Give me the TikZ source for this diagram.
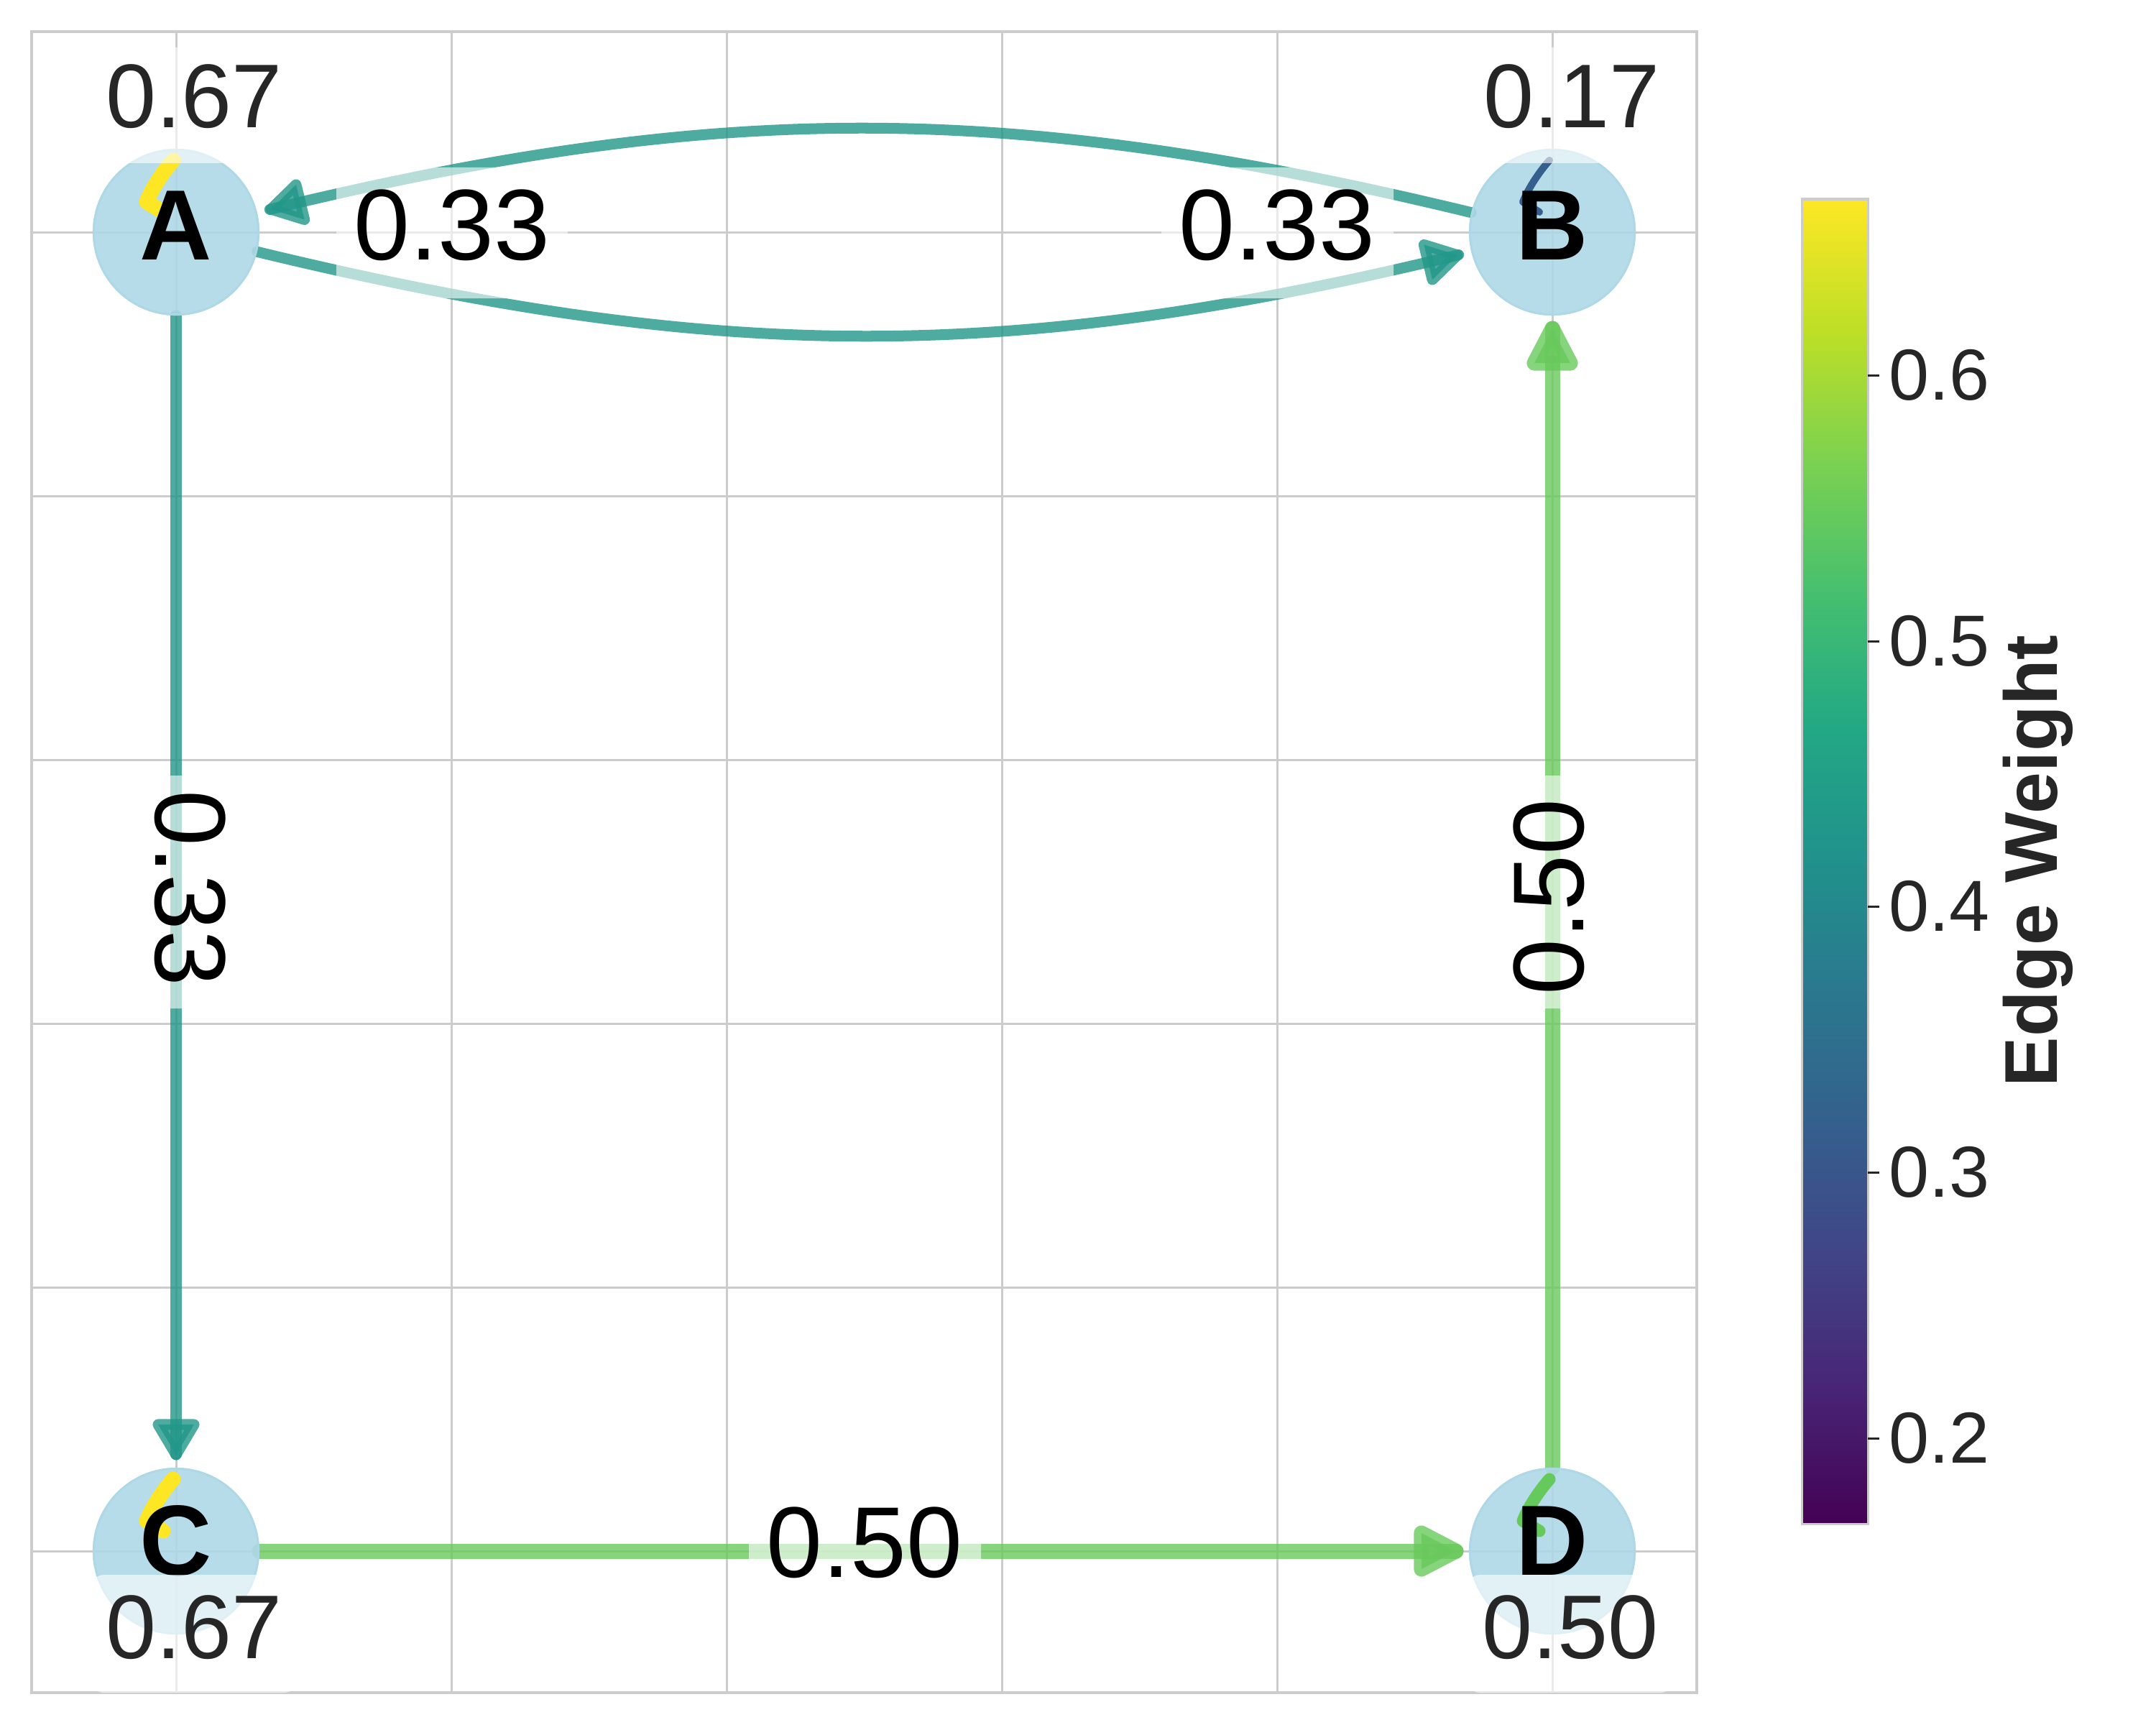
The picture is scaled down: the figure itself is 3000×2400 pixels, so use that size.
\documentclass[tikz,border=0pt]{standalone}
\usepackage{fontspec}
\setmainfont{Liberation Sans}
\usetikzlibrary{calc,decorations.markings}

\definecolor{gridc}{HTML}{CCCCCC}
\definecolor{txt}{HTML}{262626}
\definecolor{nodeblue}{HTML}{ADD8E6}
\definecolor{tealedge}{HTML}{219688}
\definecolor{greenedge}{HTML}{68C95B}
\definecolor{loopyellow}{HTML}{FDE725}
\definecolor{loopblue}{HTML}{355F8D}
\definecolor{loopgreen}{HTML}{66C95B}
\definecolor{v0}{HTML}{440154}
\definecolor{v1}{HTML}{482475}
\definecolor{v2}{HTML}{414487}
\definecolor{v3}{HTML}{355F8D}
\definecolor{v4}{HTML}{2A788E}
\definecolor{v5}{HTML}{21918C}
\definecolor{v6}{HTML}{22A884}
\definecolor{v7}{HTML}{44BF70}
\definecolor{v8}{HTML}{7AD151}
\definecolor{v9}{HTML}{BDDF26}
\definecolor{v10}{HTML}{FDE725}

\pgfdeclareverticalshading{viridis}{100bp}{color(0bp)=(v0); color(25bp)=(v0); color(30bp)=(v1); color(35bp)=(v2); color(40bp)=(v3); color(45bp)=(v4); color(50bp)=(v5); color(55bp)=(v6); color(60bp)=(v7); color(65bp)=(v8); color(70bp)=(v9); color(75bp)=(v10); color(100bp)=(v10)}

\newcommand\edgehead[4]{%
  \fill[#1, fill opacity=0.8] (0,0) -- (-#3,#4) -- (-#3,-#4) -- cycle;
  \draw[#1, draw opacity=0.8, line width=#2, line join=round] (0,0) -- (-#3,#4) -- (-#3,-#4) -- cycle;}

\newcommand\selfloop[3]{%
  \draw[line width=#3, draw=#2, line cap=round, line join=round]
    ($(#1.center)+(-4,-100)$) .. controls ($(#1.center)+(-18,-84)$) and ($(#1.center)+(-33,-62)$) .. ($(#1.center)+(-41,-42)$) -- ($(#1.center)+(-18,-28)$);}

\tikzset{
  gridline/.style={draw=gridc, line width=0.03cm},
  frameline/.style={draw=gridc, line width=0.04cm},
  vertex/.style={circle, minimum size=2.32cm, inner sep=0pt, outer sep=0.18cm},
  vertexfill/.style={fill=nodeblue, fill opacity=0.9},
  vertexring/.style={draw=nodeblue, draw opacity=0.9, line width=0.03cm},
  tealline/.style={draw=tealedge, draw opacity=0.8, line width=0.15cm, line cap=round, shorten <=-0.18cm,
    postaction={decorate, decoration={markings, mark=at position 1 with {\edgehead{tealedge}{0.15cm}{0.42cm}{0.25cm}}}}},
  tealcurve/.style={draw=tealedge, draw opacity=0.8, line width=0.15cm, line cap=round, shorten <=-0.18cm,
    postaction={decorate, decoration={markings, mark=at position 0.999 with {\edgehead{tealedge}{0.15cm}{0.42cm}{0.25cm}}}}},
  greenline/.style={draw=greenedge, draw opacity=0.8, line width=0.21cm, line cap=round, shorten <=-0.18cm,
    postaction={decorate, decoration={markings, mark=at position 1 with {\edgehead{greenedge}{0.21cm}{0.48cm}{0.25cm}}}}},
  letter/.style={inner sep=0pt, text=black, font=\fontsize{39.5}{46}\selectfont\bfseries},
  edgelab/.style={inner sep=0pt, text=black, font=\fontsize{39.8}{46}\selectfont},
  vallab/.style={inner sep=0pt, text=txt, font=\fontsize{35.8}{42}\selectfont},
  labelbox/.style={fill=white, fill opacity=0.6, rounded corners=0.2cm},
  ticklab/.style={inner sep=0pt, text=txt, font=\fontsize{28.6}{34}\selectfont},
  tickline/.style={draw=txt, line width=0.03cm},
  cbarframe/.style={draw=gridc, line width=0.03cm},
}

\begin{document}
\begin{tikzpicture}[x=0.01cm, y=-0.01cm]
\useasboundingbox (0,0) rectangle (3000,2400);

% grid and frame
\foreach \gx in {245,628,1011,1394,1777,2160} \draw[gridline] (\gx,44) -- (\gx,2355);
\foreach \gy in {323,690,1057,1424,1791,2158} \draw[gridline] (44,\gy) -- (2361,\gy);
\draw[frameline] (44,44) rectangle (2361,2355);

% vertex anchors
\node[vertex] (A) at (245,323) {};
\node[vertex] (B) at (2160,323) {};
\node[vertex] (C) at (245,2158) {};
\node[vertex] (D) at (2160,2158) {};

% edges
\draw[tealcurve] (A) to[bend right=13.6] (B);
\draw[tealcurve] (B) to[bend right=13.6] (A);
\draw[tealline] (A) -- (C);
\draw[greenline] (C) -- (D);
\draw[greenline] (D) -- (B);

% vertex discs
\foreach \vv in {A,B,C,D} {
  \fill[vertexfill] (\vv.center) circle[radius=1.16cm];
  \draw[vertexring] (\vv.center) circle[radius=1.145cm];
}

% self loops
\selfloop{A}{loopyellow}{0.21cm}
\selfloop{B}{loopblue}{0.1cm}
\selfloop{C}{loopyellow}{0.21cm}
\selfloop{D}{loopgreen}{0.17cm}

% vertex letters
\node[letter, anchor=base] (Alab) at (245,361) {A};
\node[letter, anchor=base] (Blab) at (2160,361) {B};
\node[letter, anchor=base] (Clab) at (245,2191) {C};
\node[letter, anchor=base] (Dlab) at (2160,2191) {D};

% vertex values
\fill[labelbox] (125,66) rectangle (415,227);
\fill[labelbox] (2042,66) rectangle (2332,227);
\fill[labelbox] (125,2191) rectangle (415,2355);
\fill[labelbox] (2040,2191) rectangle (2330,2355);
\node[vallab, anchor=base] (Aval) at (270,178) {0.67};
\node[vallab, anchor=base] (Bval) at (2187,178) {0.17};
\node[vallab, anchor=base] (Cval) at (270,2307) {0.67};
\node[vallab, anchor=base] (Dval) at (2185,2307) {0.50};

% edge labels
\fill[labelbox] (468,233) rectangle (790,415);
\fill[labelbox] (1616,233) rectangle (1939,415);
\fill[labelbox] (1042,2066) rectangle (1365,2247);
\fill[labelbox] (162,1079) rectangle (346,1403);
\fill[labelbox] (2073,1079) rectangle (2256,1403);
\node[edgelab, anchor=base] (wBA) at (629,361) {0.33};
\node[edgelab, anchor=base] (wAB) at (1777,361) {0.33};
\node[edgelab, anchor=base] (wCD) at (1203,2194) {0.50};
\node[edgelab, anchor=base, rotate=-90] (wAC) at (216,1236) {0.33};
\node[edgelab, anchor=base, rotate=90] (wDB) at (2203,1248) {0.50};

% colour bar
\shade[shading=viridis] (2507,277) rectangle (2599,2120);
\draw[cbarframe] (2507,277) rectangle (2599,2120);
\foreach \ty/\tv/\tn in {2001/0.2/t2, 1631/0.3/t3, 1261/0.4/t4, 892/0.5/t5, 522/0.6/t6} {
  \draw[tickline] (2599,\ty) -- (2615,\ty);
  \node[ticklab, anchor=west] (\tn) at (2628,\ty) {\tv};
}
\node[inner sep=0pt, text=txt, font=\fontsize{29.6}{34}\selectfont\bfseries, rotate=90, anchor=base] (cbarlabel) at (2862,1198) {Edge Weight};
\end{tikzpicture}
\end{document}
